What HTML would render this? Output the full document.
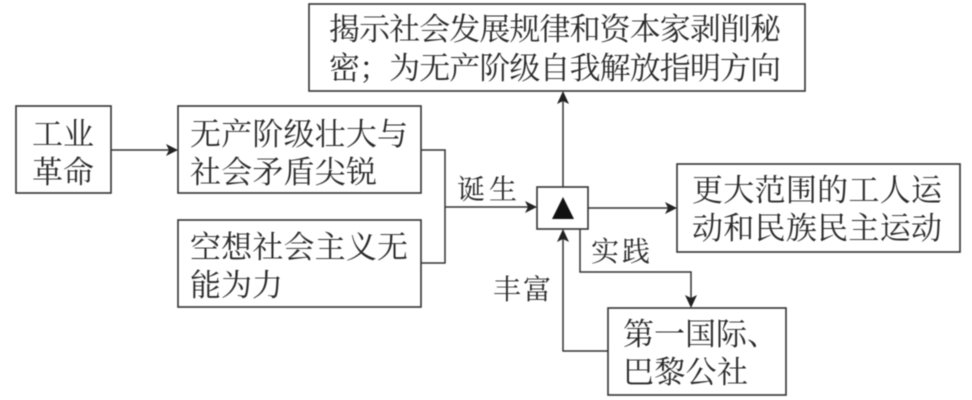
<!DOCTYPE html>
<html lang="zh">
<head>
<meta charset="utf-8">
<style>
html,body{margin:0;padding:0;background:#fff;width:972px;height:400px;overflow:hidden}
svg{display:block;filter:blur(0.4px)}
text{font-family:"Liberation Serif","Noto Serif CJK SC",serif;fill:#2a2a2a;font-size:31px}
.b{fill:#fff;stroke:#333;stroke-width:1.6}
.l{fill:none;stroke:#333;stroke-width:1.5}
.a{fill:#222;stroke:none}
</style>
</head>
<body>
<svg width="972" height="400" viewBox="0 0 972 400" xmlns="http://www.w3.org/2000/svg">
<rect class="b" x="309" y="4" width="496" height="87"/>
<rect class="b" x="16" y="106" width="95" height="87"/>
<rect class="b" x="178" y="106" width="243" height="87"/>
<rect class="b" x="178" y="220" width="243" height="87"/>
<rect class="b" x="537" y="187" width="51" height="42"/>
<rect class="b" x="677" y="164" width="283" height="88"/>
<rect class="b" x="608" y="308" width="178" height="87"/>

<path class="l" d="M111 150H170"/>
<path class="a" d="M178 150L166 144L169 150L166 156Z"/>
<path class="l" d="M421 150H445V263H421M445 207H530"/>
<path class="a" d="M537 207L525 201L528 207L525 213Z"/>
<path class="l" d="M563 187V98"/>
<path class="a" d="M563 91L557 104L563 101L569 104Z"/>
<path class="l" d="M588 208H670"/>
<path class="a" d="M677 208L665 202L668 208L665 214Z"/>
<path class="l" d="M580 229V272H691V300"/>
<path class="a" d="M691 308L685 295L691 298L697 295Z"/>
<path class="l" d="M608 351H563V236"/>
<path class="a" d="M563 229L557 242L563 239L569 242Z"/>
<path class="a" d="M563 197L552 219H574Z" style="fill:#111"/>

<text x="329" y="40" textLength="452" lengthAdjust="spacing">揭示社会发展规律和资本家剥削秘</text>
<text x="329" y="79" textLength="452" lengthAdjust="spacing">密；为无产阶级自我解放指明方向</text>
<text x="32" y="145" textLength="62" lengthAdjust="spacing">工业</text>
<text x="32" y="183" textLength="62" lengthAdjust="spacing">革命</text>
<text x="190" y="145" textLength="218" lengthAdjust="spacing">无产阶级壮大与</text>
<text x="190" y="183" textLength="187" lengthAdjust="spacing">社会矛盾尖锐</text>
<text x="190" y="258" textLength="218" lengthAdjust="spacing">空想社会主义无</text>
<text x="190" y="296" textLength="93" lengthAdjust="spacing">能为力</text>
<text x="692" y="201" textLength="250" lengthAdjust="spacing">更大范围的工人运</text>
<text x="692" y="239" textLength="250" lengthAdjust="spacing">动和民族民主运动</text>
<text x="623" y="345" textLength="155" lengthAdjust="spacing">第一国际、</text>
<text x="623" y="383" textLength="125" lengthAdjust="spacing">巴黎公社</text>
<text x="457" y="199" style="font-size:28px" textLength="60" lengthAdjust="spacing">诞生</text>
<text x="591" y="261" style="font-size:28px" textLength="59" lengthAdjust="spacing">实践</text>
<text x="493" y="299" style="font-size:28px" textLength="58" lengthAdjust="spacing">丰富</text>
</svg>
</body>
</html>
